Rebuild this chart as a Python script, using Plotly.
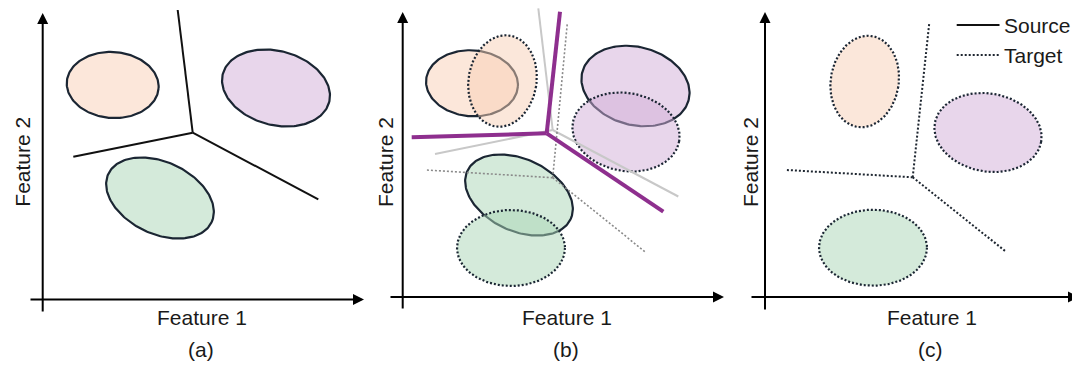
import numpy as np
import plotly.graph_objects as go

W, H = 1080, 365
PAGE_MARGIN = 8  # browser default body margin; figure sized so page fits exactly

# ---- panel frame (pixel space of the picture) ----
panel_names = ["(a)", "(b)", "(c)"]
axis_x0 = [42.7, 402.7, 765.0]        # y-axis x position
axis_top = [13.0, 12.0, 12.0]
axis_bottom = [313.0, 310.0, 311.0]
axis_y0 = [299.5, 297.0, 297.0]       # x-axis y position
axis_left = [29.0, 389.0, 750.0]
axis_right = [364.0, 724.0, 1079.0]
xlabel_pos = [201.7, 566.7, 931.7]
ylabel_pos = [21.7, 385.0, 750.0]
xlabel_text = "Feature 1"
ylabel_text = "Feature 2"

# ---- clusters (ellipses) ----
ell_panel = [0, 0, 0, 1, 1, 1, 1, 1, 1, 2, 2, 2]
ell_kind = ["src", "src", "src", "src", "src", "src", "tgt", "tgt", "tgt", "tgt", "tgt", "tgt"]
ell_class = ["peach", "purple", "green", "peach", "purple", "green",
             "peach", "purple", "green", "peach", "purple", "green"]
ell_cx = [112.7, 276.0, 160.0, 472.0, 635.5, 519.0, 502.5, 626.0, 511.0, 864.7, 988.0, 873.0]
ell_cy = [85.0, 88.0, 198.0, 83.3, 86.0, 195.0, 81.0, 132.0, 248.0, 81.5, 132.5, 247.7]
ell_rx = [46, 55, 57, 46, 55, 57, 34, 54, 54, 34, 54, 54]
ell_ry = [33, 37, 36, 33, 39, 36, 46, 39, 38, 46, 39, 38]
ell_ang = [4, 15, 25, 4, 15, 25, 9, 10, 0, 9, 10, 0]

src_fill = {"peach": "rgba(244,177,131,0.30)",
            "purple": "rgba(180,120,190,0.30)",
            "green": "rgba(120,190,140,0.32)"}
tgt_fill = {"peach": "rgba(248,208,181,0.50)",
            "purple": "rgba(210,174,216,0.50)",
            "green": "rgba(169,213,181,0.50)"}

# ---- decision boundaries: junction + three ends ----
bnd_style = ["black", "gray_solid", "gray_dot", "purple", "dark_dot"]
bnd_jx = [192.7, 552.7, 552.7, 546.7, 912.7]
bnd_jy = [132.7, 130.0, 177.7, 133.3, 177.3]
bnd_ends_x = [[177.7, 73.3, 318.3], [538.3, 435.0, 678.3], [567.3, 425.7, 645.0],
              [560.0, 411.7, 663.3], [929.3, 786.7, 1006.0]]
bnd_ends_y = [[10.0, 156.7, 199.3], [8.3, 154.0, 196.5], [23.3, 170.0, 251.7],
              [11.7, 137.3, 211.7], [22.7, 170.0, 251.7]]
bnd_line = {"black": dict(color="#111111", width=2),
            "gray_solid": dict(color="#c8c8c8", width=2),
            "gray_dot": dict(color="#8a8a8a", width=1.6, dash="2px,2px"),
            "purple": dict(color="#8e2f8e", width=4),
            "dark_dot": dict(color="#1e2630", width=2, dash="2px,2px")}

# ---- legend ----
legend_labels = ["Source", "Target"]
legend_y = [25.0, 55.0]
legend_x0, legend_x1 = 956.7, 999.5

fig = go.Figure()

def ellipse(cx, cy, rx, ry, ang):
    t = np.linspace(0, 2 * np.pi, 181)
    a = np.deg2rad(ang)
    x = cx + rx * np.cos(t) * np.cos(a) - ry * np.sin(t) * np.sin(a)
    y = cy + rx * np.cos(t) * np.sin(a) + ry * np.sin(t) * np.cos(a)
    return x, y

# draw source first, then target
order = [i for i in range(len(ell_cx)) if ell_kind[i] == "src"] + \
        [i for i in range(len(ell_cx)) if ell_kind[i] == "tgt"]
for i in order:
    x, y = ellipse(ell_cx[i], ell_cy[i], ell_rx[i], ell_ry[i], ell_ang[i])
    if ell_kind[i] == "src":
        line = dict(color="#1b2633", width=2.2)
        fc = src_fill[ell_class[i]]
    else:
        line = dict(color="#1b2633", width=2.2, dash="2px,2px")
        fc = tgt_fill[ell_class[i]]
    fig.add_trace(go.Scatter(x=x, y=y, mode="lines", fill="toself",
                             fillcolor=fc, line=line,
                             hoverinfo="skip", showlegend=False))

for k, st in enumerate(bnd_style):
    for ex, ey in zip(bnd_ends_x[k], bnd_ends_y[k]):
        fig.add_trace(go.Scatter(x=[bnd_jx[k], ex], y=[bnd_jy[k], ey], mode="lines",
                                 line=bnd_line[st], hoverinfo="skip", showlegend=False))

FS = 21
TXT = "#1a1a1a"
annotations = []
for p in range(3):
    annotations.append(dict(x=axis_x0[p], y=axis_top[p], ax=axis_x0[p], ay=axis_bottom[p],
                            xref="x", yref="y", axref="x", ayref="y", text="",
                            showarrow=True, arrowhead=2, arrowsize=1.1, arrowwidth=2,
                            arrowcolor="#000000"))
    annotations.append(dict(x=axis_right[p], y=axis_y0[p], ax=axis_left[p], ay=axis_y0[p],
                            xref="x", yref="y", axref="x", ayref="y", text="",
                            showarrow=True, arrowhead=2, arrowsize=1.1, arrowwidth=2,
                            arrowcolor="#000000"))
    annotations.append(dict(x=xlabel_pos[p], y=317, xref="x", yref="y", text=xlabel_text,
                            showarrow=False, font=dict(size=FS, color=TXT)))
    annotations.append(dict(x=xlabel_pos[p] - 1, y=349, xref="x", yref="y", text=panel_names[p],
                            showarrow=False, font=dict(size=FS, color=TXT)))
    annotations.append(dict(x=ylabel_pos[p], y=162, xref="x", yref="y", text=ylabel_text,
                            showarrow=False, textangle=-90, font=dict(size=FS, color=TXT)))

leg_styles = [dict(color="#111111", width=2), dict(color="#1e2630", width=2, dash="2px,2px")]
for lbl, ly, ls in zip(legend_labels, legend_y, leg_styles):
    fig.add_trace(go.Scatter(x=[legend_x0, legend_x1], y=[ly, ly], mode="lines", line=ls,
                             hoverinfo="skip", showlegend=False))
    annotations.append(dict(x=legend_x1 + 2, y=ly, xref="x", yref="y", text=lbl,
                            xanchor="left", showarrow=False, font=dict(size=FS, color=TXT)))

fig.update_layout(
    width=W - PAGE_MARGIN, height=H - PAGE_MARGIN, margin=dict(l=0, r=0, t=0, b=0),
    paper_bgcolor="white", plot_bgcolor="white",
    xaxis=dict(range=[PAGE_MARGIN, W], visible=False, fixedrange=True),
    yaxis=dict(range=[H, PAGE_MARGIN], visible=False, fixedrange=True),
    font=dict(family="Liberation Sans, Arial, sans-serif"),
    annotations=annotations,
)
fig.write_html("out.html")
